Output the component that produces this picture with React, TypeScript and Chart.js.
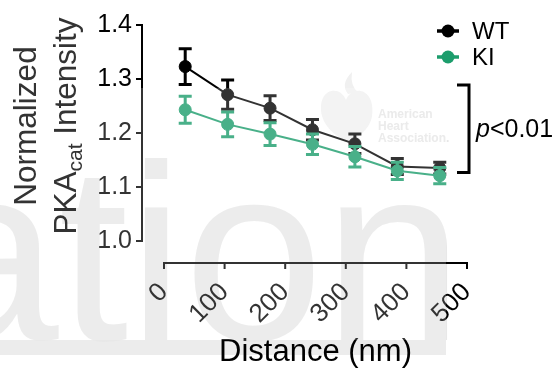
import React, { useEffect, useRef } from 'react';
import { Chart, registerables } from 'chart.js';

Chart.register(...registerables);

// ---- data ----
const distances = [35, 105, 175, 245, 315, 385, 455];
const wtMean = [1.323, 1.271, 1.246, 1.206, 1.18, 1.138, 1.135];
const wtErr = [0.033, 0.027, 0.023, 0.019, 0.018, 0.015, 0.011];
const kiMean = [1.243, 1.216, 1.198, 1.179, 1.156, 1.13, 1.121];
const kiErr = [0.025, 0.023, 0.021, 0.019, 0.019, 0.016, 0.015];
const xTicks = [0, 100, 200, 300, 400, 500];
const yTicks = [1.0, 1.1, 1.2, 1.3, 1.4];
const seriesNames = ['WT', 'KI'];
const seriesColors = ['#000000', '#1c9d6c'];
const xTitle = 'Distance (nm)';
const yTitleLine1 = 'Normalized';
const yTitleMain = 'PKA';
const yTitleSub = 'cat';
const yTitleRest = ' Intensity';
const sigLabelItalic = 'p';
const sigLabelRest = '<0.01';
const sigRange = [1.127, 1.289];

const FONT = '"Liberation Sans", Arial, Helvetica, sans-serif';

const decorPlugin = {
  id: 'decor',
  beforeDraw(chart: any) {
    const ctx = chart.ctx;
    ctx.save();
    ctx.fillStyle = '#ffffff';
    ctx.fillRect(0, 0, chart.width, chart.height);
    // watermark band
    ctx.fillStyle = '#ececec';
    ctx.fillRect(0, 340, 446, 15);
    // watermark letters
    ctx.fillStyle = '#e8e8e8';
    ctx.font = `251px ${FONT}`;
    ctx.textAlign = 'left';
    ctx.textBaseline = 'alphabetic';
    ctx.fillText('ation', -81, 340);
    // faint logo
    ctx.fillStyle = '#f0f0f0';
    const hx = 346, hy = 96;
    ctx.beginPath();
    ctx.moveTo(hx, hy + 4);
    ctx.bezierCurveTo(hx - 6, hy - 12, hx - 30, hy - 8, hx - 24, hy + 20);
    ctx.bezierCurveTo(hx - 20, hy + 34, hx - 6, hy + 42, hx + 2, hy + 47);
    ctx.bezierCurveTo(hx + 10, hy + 42, hx + 24, hy + 34, hx + 26, hy + 20);
    ctx.bezierCurveTo(hx + 30, hy - 8, hx + 6, hy - 12, hx, hy + 4);
    ctx.fill();
    ctx.beginPath();
    ctx.moveTo(hx + 2, hy - 2);
    ctx.quadraticCurveTo(hx - 6, hy - 12, hx + 6, hy - 24);
    ctx.quadraticCurveTo(hx + 4, hy - 10, hx + 12, hy - 4);
    ctx.fill();
    ctx.fillStyle = '#e6e6e6';
    ctx.font = `bold 12px ${FONT}`;
    ctx.fillText('American', 378, 118);
    ctx.fillText('Heart', 378, 130);
    ctx.fillText('Association.', 378, 142);
    ctx.restore();
  },
  beforeDatasetDraw(chart: any, args: any) {
    const ds = chart.data.datasets[args.index];
    const errs: number[] = ds.errorBars;
    if (!errs) return;
    const xs = chart.scales.x;
    const ys = chart.scales.y;
    const ctx = chart.ctx;
    ctx.save();
    ctx.strokeStyle = ds.borderColor;
    ctx.lineWidth = 3;
    ds.data.forEach((p: any, i: number) => {
      const px = xs.getPixelForValue(p.x);
      const top = ys.getPixelForValue(p.y + errs[i]);
      const bot = ys.getPixelForValue(p.y - errs[i]);
      ctx.beginPath();
      ctx.moveTo(px, top);
      ctx.lineTo(px, bot);
      ctx.moveTo(px - 6.5, top);
      ctx.lineTo(px + 6.5, top);
      ctx.moveTo(px - 6.5, bot);
      ctx.lineTo(px + 6.5, bot);
      ctx.stroke();
    });
    ctx.restore();
  },
  afterDraw(chart: any) {
    const ctx = chart.ctx;
    const xs = chart.scales.x;
    const ys = chart.scales.y;
    const area = chart.chartArea;
    ctx.save();
    // axes (Prism style offset)
    ctx.strokeStyle = '#000';
    ctx.lineWidth = 2;
    const axX = area.left - 22;
    const axY = area.bottom + 22;
    ctx.beginPath();
    ctx.moveTo(axX, ys.getPixelForValue(yTicks[yTicks.length - 1]));
    ctx.lineTo(axX, ys.getPixelForValue(yTicks[0]));
    yTicks.forEach((t) => {
      const py = ys.getPixelForValue(t);
      ctx.moveTo(axX + 1, py);
      ctx.lineTo(axX - 6, py);
    });
    ctx.moveTo(xs.getPixelForValue(xTicks[0]), axY);
    ctx.lineTo(xs.getPixelForValue(xTicks[xTicks.length - 1]), axY);
    xTicks.forEach((t) => {
      const px = xs.getPixelForValue(t);
      ctx.moveTo(px, axY - 1);
      ctx.lineTo(px, axY + 6);
    });
    ctx.stroke();

    // translucent watermark overlay
    ctx.fillStyle = 'rgba(255,255,255,0.2)';
    ctx.fillRect(0, 88, 446, 252);

    // y title
    ctx.fillStyle = '#333';
    ctx.textBaseline = 'alphabetic';
    const cy = 126;
    const big = `31.5px ${FONT}`;
    const small = `21px ${FONT}`;
    ctx.save();
    ctx.translate(35.5, cy);
    ctx.rotate(-Math.PI / 2);
    ctx.font = big;
    ctx.textAlign = 'center';
    ctx.fillText(yTitleLine1, 0, 0);
    ctx.restore();
    ctx.save();
    ctx.translate(76, cy);
    ctx.rotate(-Math.PI / 2);
    ctx.textAlign = 'left';
    ctx.font = big;
    const w1 = ctx.measureText(yTitleMain).width;
    const w3 = ctx.measureText(yTitleRest).width;
    ctx.font = small;
    const w2 = ctx.measureText(yTitleSub).width;
    const x0 = -(w1 + w2 + w3) / 2;
    ctx.font = big;
    ctx.fillText(yTitleMain, x0, 0);
    ctx.font = small;
    ctx.fillText(yTitleSub, x0 + w1, 6);
    ctx.font = big;
    ctx.fillText(yTitleRest, x0 + w1 + w2, 0);
    ctx.restore();

    // legend
    const legY = [31, 57];
    seriesNames.forEach((name, i) => {
      const c = seriesColors[i];
      ctx.strokeStyle = c;
      ctx.fillStyle = c;
      ctx.lineWidth = 3.5;
      ctx.beginPath();
      ctx.moveTo(437, legY[i]);
      ctx.lineTo(459, legY[i]);
      ctx.stroke();
      ctx.beginPath();
      ctx.arc(448, legY[i], 6.5, 0, Math.PI * 2);
      ctx.fill();
      ctx.fillStyle = '#000';
      ctx.font = `24px ${FONT}`;
      ctx.textAlign = 'left';
      ctx.textBaseline = 'middle';
      ctx.fillText(name, 472, legY[i] + 1);
    });

    // significance bracket
    const bTop = ys.getPixelForValue(sigRange[1]);
    const bBot = ys.getPixelForValue(sigRange[0]);
    ctx.strokeStyle = '#000';
    ctx.lineWidth = 3;
    ctx.beginPath();
    ctx.moveTo(457, bTop);
    ctx.lineTo(469, bTop);
    ctx.lineTo(469, bBot);
    ctx.lineTo(457, bBot);
    ctx.stroke();
    ctx.fillStyle = '#000';
    ctx.textBaseline = 'alphabetic';
    ctx.textAlign = 'left';
    ctx.font = `italic 25px ${FONT}`;
    ctx.fillText(sigLabelItalic, 476, 137);
    const pw = ctx.measureText(sigLabelItalic).width;
    ctx.font = `25px ${FONT}`;
    ctx.fillText(sigLabelRest, 476 + pw, 137);
    ctx.restore();
  },
};

export default function App() {
  const ref = useRef<HTMLCanvasElement | null>(null);
  useEffect(() => {
    if (!ref.current) return;
    const chart = new Chart(ref.current, {
      type: 'line',
      data: {
        datasets: [
          {
            label: seriesNames[0],
            data: distances.map((x, i) => ({ x, y: wtMean[i] })),
            borderColor: seriesColors[0],
            backgroundColor: seriesColors[0],
            pointBackgroundColor: seriesColors[0],
            pointBorderColor: seriesColors[0],
            pointRadius: 6,
            pointBorderWidth: 1,
            borderWidth: 2,
            order: 2,
            errorBars: wtErr,
          } as any,
          {
            label: seriesNames[1],
            data: distances.map((x, i) => ({ x, y: kiMean[i] })),
            borderColor: seriesColors[1],
            backgroundColor: seriesColors[1],
            pointBackgroundColor: seriesColors[1],
            pointBorderColor: seriesColors[1],
            pointRadius: 6,
            pointBorderWidth: 1,
            borderWidth: 2,
            order: 1,
            errorBars: kiErr,
          } as any,
        ],
      },
      options: {
        responsive: false,
        animation: false,
        devicePixelRatio: 1,
        layout: { padding: { left: 0, right: 90, top: 25, bottom: 0 } },
        plugins: { legend: { display: false }, tooltip: { enabled: false } },
        scales: {
          x: {
            type: 'linear',
            min: 0,
            max: 500,
            grid: { display: false, drawTicks: false },
            border: { display: false },
            afterFit: (s: any) => {
              s.height = 129;
              s.paddingLeft = 0;
              s.paddingRight = 0;
            },
            afterBuildTicks: (s: any) => {
              s.ticks = xTicks.map((v) => ({ value: v }));
            },
            ticks: {
              autoSkip: false,
              minRotation: 45,
              maxRotation: 45,
              padding: 36,
              color: '#000',
              font: { family: FONT, size: 26 },
            },
            title: {
              display: true,
              text: xTitle,
              color: '#000',
              font: { family: FONT, size: 31, lineHeight: 1.1 },
              padding: { top: 0, bottom: 0 },
            },
          },
          y: {
            type: 'linear',
            min: yTicks[0],
            max: yTicks[yTicks.length - 1],
            grid: { display: false, drawTicks: false },
            border: { display: false },
            afterFit: (s: any) => {
              s.width = 164;
              s.paddingTop = 0;
              s.paddingBottom = 0;
            },
            afterBuildTicks: (s: any) => {
              s.ticks = yTicks.map((v) => ({ value: v }));
            },
            ticks: {
              padding: 32,
              color: '#000',
              font: { family: FONT, size: 25 },
              callback: (v: any) => Number(v).toFixed(1),
            },
          },
        },
      },
      plugins: [decorPlugin],
    });
    return () => chart.destroy();
  }, []);
  return (
    <div style={{ position: 'absolute', left: 0, top: 0, width: 557, height: 370 }}>
      <canvas ref={ref} width={557} height={370} />
    </div>
  );
}
